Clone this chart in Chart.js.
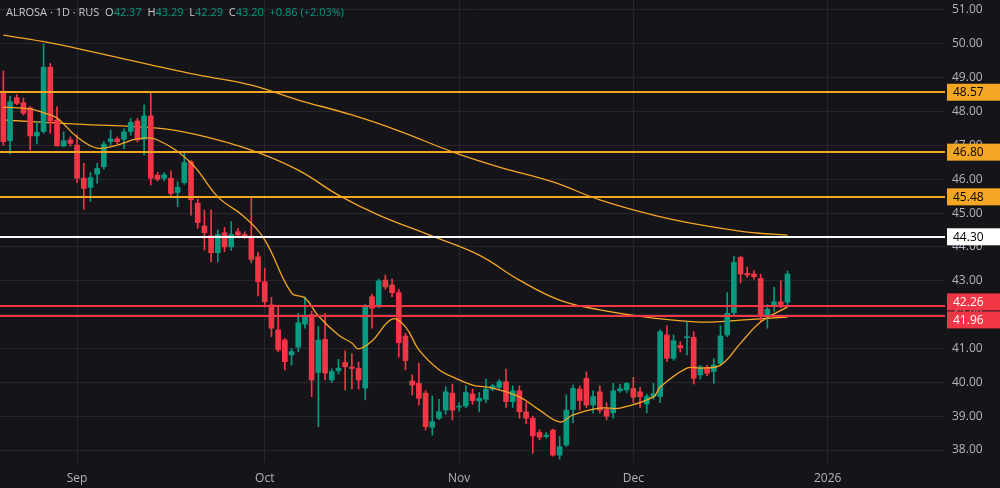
<!DOCTYPE html>
<html><head><meta charset="utf-8">
<script src="https://cdn.jsdelivr.net/npm/chart.js@4"></script>
<style>
html,body{margin:0;padding:0;background:#141419;}
#wrap{position:relative;width:1000px;height:488px;}
#hdr{position:absolute;left:6px;top:4px;font:11px "Open Sans",sans-serif;color:#c8c9ce;white-space:pre;z-index:2}
#hdr .v{color:#089981}
canvas{display:block}
</style></head><body>
<div id="wrap"><div id="hdr">ALROSA · 1D · RUS  O<span class="v">42.37</span>  H<span class="v">43.29</span>  L<span class="v">42.29</span>  C<span class="v">43.20</span>  <span class="v">+0.86 (+2.03%)</span></div>
<canvas id="c" width="1000" height="488"></canvas></div>
<script>
const openV=[48.54,47.14,48.41,48.26,48.11,47.28,47.41,49.31,47.75,46.98,47.16,47.01,46.03,45.76,46.15,46.37,47.11,47.19,47.18,47.41,47.72,47.18,47.87,46.12,46.03,46.03,45.61,45.9,46.52,45.29,44.62,44.33,43.83,44.42,44.0,44.45,44.37,44.32,43.71,42.97,42.29,41.55,41.25,40.81,41.04,41.72,42.0,40.29,41.27,40.07,40.34,40.59,40.45,40.41,39.83,42.53,42.24,43.02,42.88,42.65,41.37,40.04,39.97,39.68,38.67,38.94,39.18,39.68,39.27,39.3,39.66,39.45,39.5,39.8,39.85,40.02,39.43,39.75,39.13,38.94,38.52,38.4,38.59,37.85,38.15,39.2,39.8,40.12,39.33,39.72,39.2,39.1,39.75,39.78,39.82,39.72,39.36,39.58,39.58,41.4,40.71,41.09,41.32,41.33,40.22,40.44,40.32,40.56,41.4,42.06,43.69,43.22,43.2,43.07,41.96,42.28,42.38,42.37];
const closeV=[47.11,48.29,48.24,47.95,47.28,47.39,49.31,47.72,46.98,47.14,47.06,46.03,45.73,46.05,46.32,47.04,47.19,47.11,47.40,47.68,47.16,47.87,46.03,46.0,46.13,45.58,45.76,46.49,45.39,44.72,44.42,43.83,44.37,44.0,44.37,44.35,44.32,43.63,42.97,42.38,41.6,40.96,40.61,40.91,41.76,41.96,40.07,41.25,40.27,40.32,40.42,40.46,40.41,40.07,42.26,42.19,43.0,42.82,42.65,41.17,40.64,39.92,39.53,38.69,38.84,39.13,39.72,39.18,39.3,39.7,39.46,39.53,39.8,39.9,40.02,39.43,39.75,39.13,38.94,38.42,38.38,38.44,37.85,38.1,39.18,39.82,39.46,39.33,39.58,39.18,39.0,39.75,39.81,39.97,39.56,39.58,39.58,39.66,41.5,40.71,41.23,41.02,41.34,40.12,40.46,40.27,40.51,41.37,42.04,43.54,43.2,43.17,43.12,41.96,42.16,42.38,42.3,43.2];
const highV=[49.2,48.46,48.5,48.4,48.15,47.7,50.0,49.42,48.14,47.4,47.25,47.31,46.47,46.2,46.47,47.11,47.45,47.25,47.5,47.8,47.8,48.19,48.59,46.2,46.2,46.25,45.93,46.78,46.55,45.41,45.09,45.09,44.5,44.58,44.75,44.55,44.45,45.44,43.85,43.37,42.51,42.26,41.3,41.0,42.04,42.53,42.1,41.65,42.04,40.4,40.68,40.93,40.85,40.6,42.3,42.61,43.05,43.17,43.05,42.75,41.45,40.22,40.56,39.75,39.6,39.5,39.87,39.95,39.4,39.9,39.8,39.7,40.1,39.95,40.08,40.39,39.9,39.9,39.4,39.0,38.6,38.52,38.62,38.4,39.63,39.92,39.9,40.31,39.75,39.9,39.4,39.97,39.95,40.0,40.15,39.85,39.65,39.97,41.55,41.67,41.4,41.2,41.79,41.5,40.5,40.5,40.7,41.67,42.65,43.73,43.73,43.4,43.3,43.2,42.3,42.81,43.0,43.29];
const lowV=[47.0,46.75,48.2,47.9,46.86,47.04,47.36,47.36,47.0,46.96,46.98,45.9,45.11,45.34,45.88,46.3,47.0,47.05,46.9,47.3,47.1,46.72,45.83,45.95,45.95,45.47,45.19,45.85,44.94,44.55,43.91,43.56,43.56,43.86,43.9,44.3,44.25,43.53,42.55,42.23,41.35,40.9,40.37,40.51,40.9,41.6,39.58,38.69,40.07,40.0,40.25,39.77,39.8,39.8,39.48,41.6,42.2,42.75,42.53,40.74,40.37,39.63,39.33,38.59,38.44,38.9,39.06,38.89,39.15,39.25,39.35,39.13,39.4,39.75,39.8,39.26,39.26,38.94,38.79,37.9,38.3,38.35,37.82,37.73,38.1,38.81,39.18,39.25,39.09,39.1,38.89,38.94,39.7,39.7,39.4,39.26,39.1,39.5,39.4,40.61,40.65,40.9,40.81,39.95,40.1,40.2,39.97,40.5,41.35,42.0,42.94,43.1,43.05,41.79,41.6,42.1,42.2,42.29];

const maLongIdx=[0,7,14,22,29,37,44,52,59,67,74,82,89,97,104,111,117];
const maLongVal=[50.26,50.03,49.73,49.38,49.08,48.78,48.34,47.9,47.43,46.81,46.36,45.92,45.39,44.94,44.65,44.44,44.35];
const maMidIdx=[0,11,23,29,37,44,50,56,64,71,77,83,89,97,104,110,117];
const maMidVal=[47.75,47.63,47.51,47.31,46.86,46.27,45.53,44.94,44.32,43.76,43.02,42.43,42.14,41.9,41.78,41.84,41.93];
const maShortIdx=[0,4,6,8,11,14,17,20,23,28,32,36,39,43,45,47,50,52,53,55,58,60,62,65,67,70,73,77,80,83,85,89,92,97,98,102,104,107,110,113,117];
const maShortVal=[48.13,48.08,47.96,47.81,47.25,46.92,47.01,47.19,47.16,46.48,45.48,44.88,44.21,42.64,42.49,41.96,41.4,41.16,40.99,41.22,41.87,41.64,40.96,40.37,40.16,39.92,39.83,39.57,39.18,38.83,39.04,39.24,39.24,39.57,39.86,40.42,40.42,40.51,41.16,41.78,42.23];

const levelOrange=[48.57,46.80,45.48];
const levelWhite=[44.30];
const levelRed=[42.26,41.96];
const yTicks=[38,39,40,41,42,43,44,45,46,47,48,49,50,51];
const monthTicks={11:'Sep',39:'Oct',68:'Nov',94:'Dec',123:'2026'};
const nCats=141;

const GREEN='#089981',RED='#f23645',ORANGE='#f5a623';
const labels=Array.from({length:nCats},(_,i)=>i);
const col=openV.map((o,i)=>closeV[i]>=o?GREEN:RED);
const pts=(a,b)=>a.map((x,i)=>({x:x,y:b[i]}));

const levels=[...levelOrange.map(v=>({v,c:ORANGE,t:'#000'})),...levelWhite.map(v=>({v,c:'#ffffff',t:'#000'})),...levelRed.map(v=>({v,c:RED,t:'#fff'}))];

const plug={id:'lv',
 beforeDraw(ch){const c=ch.ctx;c.save();c.fillStyle='#141419';c.fillRect(0,0,ch.width,ch.height);c.restore();},
 afterDatasetsDraw(ch){const c=ch.ctx,y=ch.scales.y,a=ch.chartArea;c.save();
  levels.forEach(l=>{const p=Math.round(y.getPixelForValue(l.v));c.strokeStyle=l.c;c.lineWidth=2;c.beginPath();c.moveTo(0,p);c.lineTo(a.right,p);c.stroke();});
  c.restore();},
 afterDraw(ch){const c=ch.ctx,y=ch.scales.y,a=ch.chartArea;c.save();
  c.font='12px "Open Sans",sans-serif';c.textBaseline='middle';
  const bx=levels.map(l=>({l,p:y.getPixelForValue(l.v)})).sort((m,n)=>m.p-n.p);
  for(let i=1;i<bx.length;i++){if(bx[i].p-bx[i-1].p<18){const d=(18-(bx[i].p-bx[i-1].p))/2;bx[i-1].p-=d;bx[i].p+=d;}}
  bx.forEach(b=>{const l=b.l,p=b.p;c.fillStyle=l.c;c.fillRect(a.right+2,p-8.5,53,17);c.fillStyle=l.t;c.fillText(l.v.toFixed(2),a.right+8,p+0.5);});
  c.restore();}
};

new Chart(document.getElementById('c'),{
 data:{labels:labels,datasets:[
  {type:'line',data:pts(maLongIdx,maLongVal),borderColor:ORANGE,borderWidth:1.3,pointRadius:0,tension:0.4,order:3},
  {type:'line',data:pts(maMidIdx,maMidVal),borderColor:ORANGE,borderWidth:1.3,pointRadius:0,tension:0.4,order:3},
  {type:'line',data:pts(maShortIdx,maShortVal),borderColor:ORANGE,borderWidth:1.3,pointRadius:0,tension:0.4,order:0},
  {type:'bar',data:lowV.map((l,i)=>[l,highV[i]]),backgroundColor:col,barThickness:1,grouped:false,order:2},
  {type:'bar',data:openV.map((o,i)=>[o,closeV[i]]),backgroundColor:col,barThickness:5,minBarLength:1,grouped:false,order:1}
 ]},
 options:{responsive:false,animation:false,events:[],
  layout:{padding:0},
  plugins:{legend:{display:false},tooltip:{enabled:false}},
  scales:{
   x:{offset:true,afterFit:s=>{s.height=26;s.paddingLeft=0;s.paddingRight=0;},
      grid:{offset:false,color:c=>monthTicks[c.index]?'#26262c':'transparent',drawTicks:false},border:{display:false},
      ticks:{autoSkip:false,maxRotation:0,color:'#b2b5be',font:{size:12,family:'Open Sans'},padding:9,callback:(v,i)=>monthTicks[i]||''}},
   y:{position:'right',min:37.647,max:51.295,afterFit:s=>{s.width=55;s.paddingTop=0;s.paddingBottom=0;},
      afterBuildTicks:s=>{s.ticks=yTicks.map(v=>({value:v}));},
      grid:{color:'#26262c',drawTicks:false},border:{display:false},
      ticks:{color:'#b2b5be',font:{size:12,family:'Open Sans'},padding:7,callback:v=>Number(v).toFixed(2)}}
  }},
 plugins:[plug]
});
</script></body></html>
